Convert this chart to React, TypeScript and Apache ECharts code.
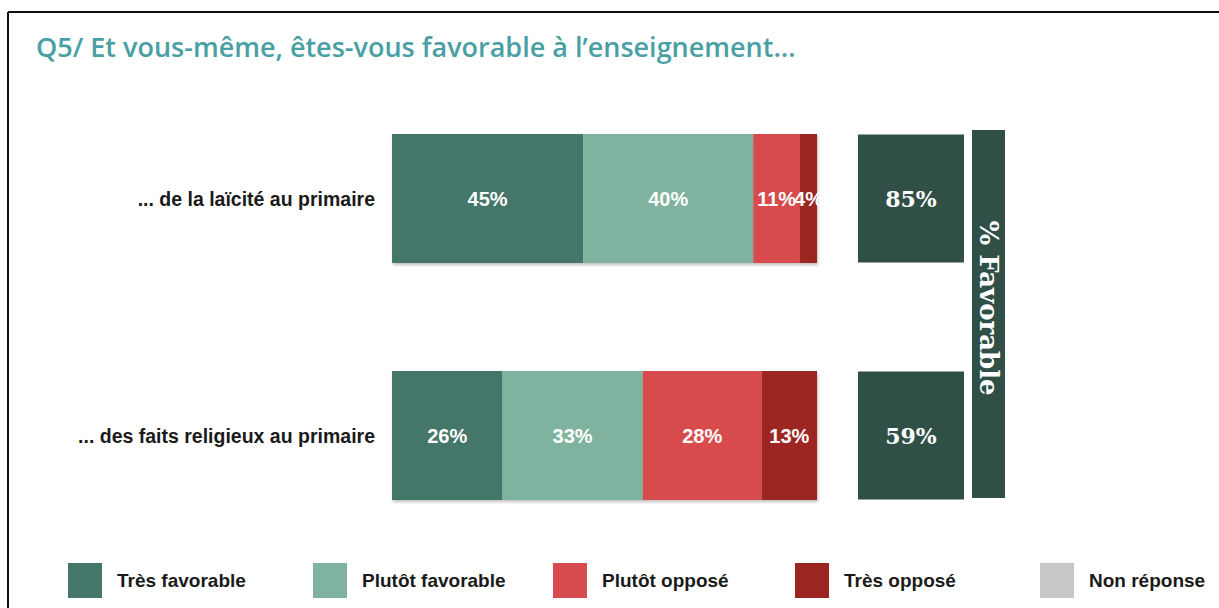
import React, { useEffect, useRef } from "react";
import * as echarts from "echarts";

const categories = ["... de la laïcité au primaire", "... des faits religieux au primaire"];
const tresFavorable = [45, 26];
const plutotFavorable = [40, 33];
const plutotOppose = [11, 28];
const tresOppose = [4, 13];
const nonReponse = [0, 0];
const favorable = [85, 59];
const seriesNames = ["Très favorable", "Plutôt favorable", "Plutôt opposé", "Très opposé", "Non réponse"];
const seriesColors = ["#45766a", "#7fb39f", "#d84b4e", "#9b2520", "#c8c8c8"];
const legendLefts = [68, 313, 553, 795, 1040];

export default function App() {
  const ref = useRef<HTMLDivElement>(null);
  useEffect(() => {
    if (!ref.current) return;
    const chart = echarts.init(ref.current, null, { renderer: "svg" });
    const sans = "'Liberation Sans', Arial, Helvetica, sans-serif";
    const serif = "'DejaVu Serif', Georgia, serif";
    const values = [tresFavorable, plutotFavorable, plutotOppose, tresOppose, nonReponse];
    const mainSeries = values.map((d, i) => ({
      name: seriesNames[i],
      type: "bar",
      stack: "total",
      xAxisIndex: 0,
      yAxisIndex: 0,
      barWidth: 129,
      data: d,
      itemStyle: {
        color: seriesColors[i],
        shadowBlur: 3,
        shadowOffsetX: 1,
        shadowOffsetY: 2,
        shadowColor: "rgba(0,0,0,0.25)",
      },
      label: {
        show: i < 4,
        position: "inside",
        formatter: "{c}%",
        color: "#ffffff",
        fontSize: 20,
        fontWeight: "bold",
        fontFamily: sans,
      },
    }));
    const favSeries = {
      name: "% Favorable",
      type: "bar",
      xAxisIndex: 1,
      yAxisIndex: 1,
      barWidth: 128,
      data: favorable.map((v) => ({ value: 100, fav: v })),
      itemStyle: { color: "#2f4f47" },
      label: {
        show: true,
        position: "inside",
        formatter: (p: any) => favorable[p.dataIndex] + "%",
        color: "#ffffff",
        fontSize: 22,
        fontWeight: "bold",
        fontFamily: serif,
      },
    };
    const option: any = {
      animation: false,
      backgroundColor: "#ffffff",
      title: {
        text: "Q5/ Et vous-même, êtes-vous favorable à l’enseignement…",
        left: 31,
        top: 28,
        textStyle: {
          color: "#4a9fa5",
          fontSize: 27,
          fontWeight: 600,
          fontFamily: "'Open Sans', sans-serif",
        },
      },
      legend: seriesNames.map((n, i) => ({
        data: [n],
        left: legendLefts[i],
        top: 563,
        padding: 0,
        icon: "rect",
        itemWidth: 34,
        itemHeight: 35,
        selectedMode: false,
        textStyle: {
          fontSize: 19,
          fontWeight: "bold",
          color: "#1a1a1a",
          fontFamily: sans,
          padding: [0, 0, 0, 10],
        },
      })),
      grid: [
        { left: 392, width: 425, top: 80, height: 474 },
        { left: 858, width: 106, top: 80, height: 474 },
      ],
      xAxis: [
        { type: "value", gridIndex: 0, min: 0, max: 100, show: false },
        { type: "value", gridIndex: 1, min: 0, max: 100, show: false },
      ],
      yAxis: [
        {
          type: "category",
          gridIndex: 0,
          data: categories,
          inverse: true,
          axisLine: { show: false },
          axisTick: { show: false },
          axisLabel: {
            margin: 17,
            fontSize: 19.5,
            fontWeight: "bold",
            color: "#1a1a1a",
            fontFamily: sans,
          },
        },
        {
          type: "category",
          gridIndex: 1,
          data: categories,
          inverse: true,
          show: false,
        },
      ],
      series: [...mainSeries, favSeries],
      graphic: [
        { type: "line", shape: { x1: 8, y1: 12, x2: 1219, y2: 12 }, style: { stroke: "#111", lineWidth: 2 } },
        { type: "line", shape: { x1: 8, y1: 12, x2: 8, y2: 608 }, style: { stroke: "#111", lineWidth: 2 } },
        { type: "rect", shape: { x: 972, y: 130, width: 33, height: 368 }, style: { fill: "#2f4f47" } },
        {
          type: "text",
          x: 989,
          y: 308,
          rotation: -Math.PI / 2,
          style: {
            text: "% Favorable",
            fill: "#ffffff",
            font: "bold 26px 'DejaVu Serif', Georgia, serif",
            align: "center",
            verticalAlign: "middle",
          },
        },
      ],
    };
    chart.setOption(option);
    return () => chart.dispose();
  }, []);
  return (
    <div
      ref={ref}
      style={{ position: "absolute", left: 0, top: 0, width: 1219, height: 608 }}
    />
  );
}
